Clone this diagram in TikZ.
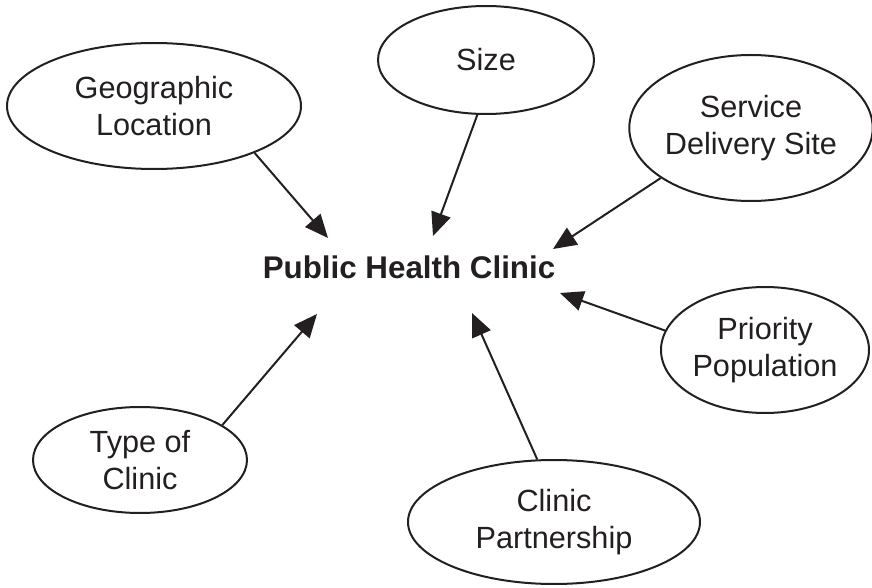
\documentclass[tikz,border=0pt]{standalone}
\usepackage{fontspec}
\setmainfont{Liberation Sans}
\usetikzlibrary{shapes.geometric,arrows.meta}
\definecolor{ink}{RGB}{35,31,32}

\begin{document}
\begin{tikzpicture}[x=0.75pt,y=-0.75pt,ink,line width=1.5pt,
  bubble/.style={draw,ellipse,inner sep=0pt,align=center,font=\fontsize{23}{28}\selectfont},
  arr/.style={-{Triangle[length=17.5pt,width=15pt]}}]
\useasboundingbox (0,0) rectangle (872,588);
\node[font=\bfseries\fontsize{23.5}{28}\selectfont,anchor=base] (H) at (409,279) {Public Health Clinic};
\node[bubble,minimum width=220.5pt,minimum height=94.5pt] (G) at (154,106) {Geographic\\Location};
\node[bubble,minimum width=162pt,minimum height=81pt] (S) at (486,60) {Size};
\node[bubble,minimum width=180pt,minimum height=109.5pt] (D) at (751,128) {Service\\Delivery Site};
\node[bubble,minimum width=156pt,minimum height=94.5pt] (P) at (765,350) {Priority\\Population};
\node[bubble,minimum width=160.5pt,minimum height=79.5pt] (T) at (140,460) {Type of\\Clinic};
\node[bubble,minimum width=219pt,minimum height=93pt] (C) at (554,522) {Clinic\\Partnership};
\coordinate (g) at (328,238);
\coordinate (s) at (433,236);
\coordinate (d) at (553,249);
\coordinate (p) at (560,293);
\coordinate (t) at (317,314);
\coordinate (c) at (472,313);
\foreach \a/\b/\x in {G/-25/g, S/261.6/s, D/209.7/d, P/169.8/p, T/23.1/t, C/105.3/c}{
  \draw[arr] (\a.\b) -- (\x);
}
\end{tikzpicture}
\end{document}
